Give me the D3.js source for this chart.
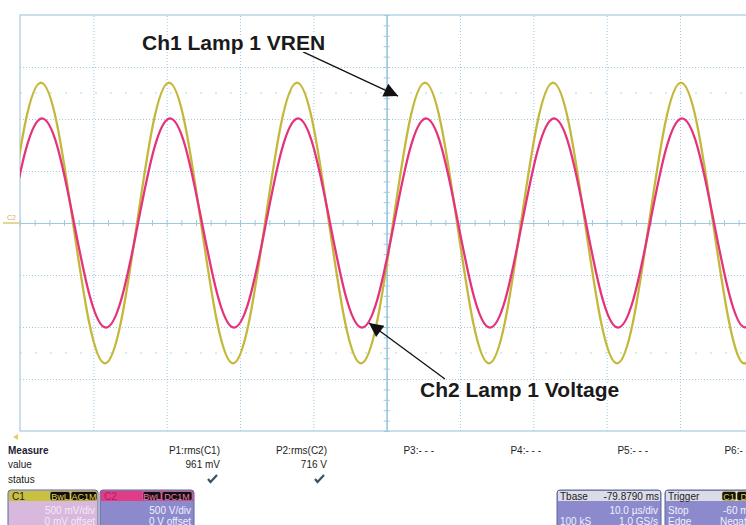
<!DOCTYPE html>
<html>
<head>
<meta charset="utf-8">
<script src="https://cdn.jsdelivr.net/npm/d3@7"></script>
<style>
  body { margin: 0; background: #ffffff; }
  text { font-family: "Liberation Sans", Arial, sans-serif; }
</style>
</head>
<body>
<div id="scope"></div>
<script>
// Scope capture: Ch1 (lamp VREN) and Ch2 (lamp voltage), 10 us/div

// sample times in microseconds (screen centre = 0)
var timeUs = [-51.50, -49.32, -47.14, -44.95, -42.77, -40.59, -38.41, -36.23,
  -34.04, -31.86, -29.68, -27.50, -25.32, -23.13, -20.95, -18.77,
  -16.59, -14.41, -12.22, -10.04, -7.86, -5.68, -3.50, -1.31,
  0.87, 3.05, 5.23, 7.41, 9.60, 11.78, 13.96, 16.14,
  18.32, 20.51, 22.69, 24.87, 27.05, 29.23, 31.42, 33.60,
  35.78, 37.96, 40.14, 42.33, 44.51, 46.69, 48.87, 51.05];

// Ch1 in volts (500 mV/div)
var ch1Volts = [0, 0.95, 1.35, 0.95, 0, -0.95, -1.35, -0.95,
  0, 0.95, 1.35, 0.95, 0, -0.95, -1.35, -0.95,
  0, 0.95, 1.35, 0.95, 0, -0.95, -1.35, -0.95,
  0, 0.95, 1.35, 0.95, 0, -0.95, -1.35, -0.95,
  0, 0.95, 1.35, 0.95, 0, -0.95, -1.35, -0.95,
  0, 0.95, 1.35, 0.95, 0, -0.95, -1.35, -0.95];

// Ch2 in volts (500 V/div), lags Ch1 very slightly
var ch2Volts = [-50, 675, 1004, 745, 50, -675, -1004, -745,
  -50, 675, 1004, 745, 50, -675, -1004, -745,
  -50, 675, 1004, 745, 50, -675, -1004, -745,
  -50, 675, 1004, 745, 50, -675, -1004, -745,
  -50, 675, 1004, 745, 50, -675, -1004, -745,
  -50, 675, 1004, 745, 50, -675, -1004, -745];

// measurement table
var measureNames = ["P1:rms(C1)", "P2:rms(C2)", "P3:- - -", "P4:- - -", "P5:- - -", "P6:- - -"];
var measureValues = ["961 mV", "716 V", "", "", "", ""];
var measureOk = [true, true, false, false, false, false];

// annotation targets: [time us, volts]
var ch1Label = "Ch1 Lamp 1 VREN";
var ch1ArrowFrom = [-11.4, 1.645];
var ch1ArrowTo = [1.55, 1.22];
var ch2Label = "Ch2 Lamp 1 Voltage";
var ch2ArrowFrom = [7.95, -1500];
var ch2ArrowTo = [-2.41, -962];

var svgWidth = 746;
var svgHeight = 525;

// plot region (10 x 8 divisions, right edge runs off the picture)
var plot = { left: 20, top: 15, divX: 73.33, divY: 52 };
var width = plot.divX * 10;
var height = plot.divY * 8;

var gridColor = "#9cc8e0";
var ch1Color = "#c4b83a";
var ch2Color = "#e6327c";

var svg = d3.select("#scope")
  .append("svg")
  .attr("width", svgWidth)
  .attr("height", svgHeight);

svg.append("rect")
  .attr("width", svgWidth)
  .attr("height", svgHeight)
  .attr("fill", "#ffffff");

var chartGroup = svg.append("g")
  .attr("transform", `translate(${plot.left}, ${plot.top})`);

//scales
var xScale = d3.scaleLinear().domain([-50, 50]).range([0, width]);
var y1Scale = d3.scaleLinear().domain([-2, 2]).range([height, 0]);
var y2Scale = d3.scaleLinear().domain([-2000, 2000]).range([height, 0]);

//******************* grid *******************/
var xGrid = chartGroup.append("g")
  .attr("transform", `translate(0, ${height})`)
  .call(d3.axisBottom(xScale).tickValues(d3.range(-40, 50, 10)).tickSize(-height).tickFormat(""));
var yGrid = chartGroup.append("g")
  .call(d3.axisLeft(y1Scale).tickValues(d3.range(-1.5, 2, 0.5)).tickSize(-width).tickFormat(""));

[xGrid, yGrid].forEach(function(g) {
  g.select(".domain").remove();
  g.selectAll("line")
    .attr("stroke", gridColor)
    .attr("stroke-width", 1)
    .attr("stroke-dasharray", "1,2");
});

// faint dotted marker rows
chartGroup.selectAll(".markRow")
  .data([1.25, -1.25])
  .enter()
  .append("line")
  .attr("x1", 0)
  .attr("x2", width)
  .attr("y1", d => y1Scale(d))
  .attr("y2", d => y1Scale(d))
  .attr("stroke", gridColor)
  .attr("stroke-width", 1.2)
  .attr("stroke-dasharray", "2,13")
  .attr("opacity", 0.7);

// centre axes with minor ticks
function styleAxis(g) {
  g.select(".domain").attr("stroke", gridColor).attr("stroke-width", 1.2);
  g.selectAll("line").attr("stroke", gridColor).attr("stroke-width", 1);
}
var minorT = d3.range(-50, 52, 2);
var minorV = d3.range(-2, 2.01, 0.1);
chartGroup.append("g")
  .attr("transform", `translate(0, ${y1Scale(0)})`)
  .call(d3.axisBottom(xScale).tickValues(minorT).tickSizeInner(3).tickSizeOuter(0).tickFormat(""))
  .call(styleAxis);
chartGroup.append("g")
  .attr("transform", `translate(0, ${y1Scale(0)})`)
  .call(d3.axisTop(xScale).tickValues(minorT).tickSizeInner(3).tickSizeOuter(0).tickFormat(""))
  .call(styleAxis);
chartGroup.append("g")
  .attr("transform", `translate(${xScale(0)}, 0)`)
  .call(d3.axisLeft(y1Scale).tickValues(minorV).tickSizeInner(3).tickSizeOuter(0).tickFormat(""))
  .call(styleAxis);
chartGroup.append("g")
  .attr("transform", `translate(${xScale(0)}, 0)`)
  .call(d3.axisRight(y1Scale).tickValues(minorV).tickSizeInner(3).tickSizeOuter(0).tickFormat(""))
  .call(styleAxis);

// outer frame
chartGroup.append("rect")
  .attr("width", width)
  .attr("height", height)
  .attr("fill", "none")
  .attr("stroke", "#a6cce0")
  .attr("stroke-width", 1.2);

// channel ground marker on the left
svg.append("line")
  .attr("x1", 3).attr("x2", plot.left)
  .attr("y1", plot.top + y1Scale(0)).attr("y2", plot.top + y1Scale(0))
  .attr("stroke", "#d8c878").attr("stroke-width", 1.5);
svg.append("text")
  .attr("x", 7).attr("y", plot.top + y1Scale(0) - 3)
  .attr("font-size", "7px")
  .attr("fill", "#d0b070")
  .text("C2");

//******************* traces *******************/
var clip = svg.append("clipPath").attr("id", "plotClip")
  .append("rect").attr("width", width).attr("height", height);

var traceGroup = chartGroup.append("g").attr("clip-path", "url(#plotClip)");

var line1 = d3.line()
  .x((d, i) => xScale(timeUs[i]))
  .y(d => y1Scale(d))
  .curve(d3.curveNatural);
var line2 = d3.line()
  .x((d, i) => xScale(timeUs[i]))
  .y(d => y2Scale(d))
  .curve(d3.curveNatural);

traceGroup.append("path")
  .datum(ch1Volts)
  .attr("d", line1)
  .attr("fill", "none")
  .attr("stroke", ch1Color)
  .attr("stroke-width", 2.3);

traceGroup.append("path")
  .datum(ch2Volts)
  .attr("d", line2)
  .attr("fill", "none")
  .attr("stroke", ch2Color)
  .attr("stroke-width", 2.3);

//******************* annotations *******************/
svg.append("defs").append("marker")
  .attr("id", "arrowHead")
  .attr("viewBox", "0 0 10 10")
  .attr("refX", 10).attr("refY", 5)
  .attr("markerWidth", 19).attr("markerHeight", 14)
  .attr("markerUnits", "userSpaceOnUse")
  .attr("orient", "auto")
  .append("path")
  .attr("d", "M0,0L10,5L0,10Z")
  .attr("fill", "#111");

chartGroup.append("line")
  .attr("x1", xScale(ch1ArrowFrom[0])).attr("y1", y1Scale(ch1ArrowFrom[1]))
  .attr("x2", xScale(ch1ArrowTo[0])).attr("y2", y1Scale(ch1ArrowTo[1]))
  .attr("stroke", "#111").attr("stroke-width", 1.3)
  .attr("marker-end", "url(#arrowHead)");

chartGroup.append("line")
  .attr("x1", xScale(ch2ArrowFrom[0])).attr("y1", y2Scale(ch2ArrowFrom[1]))
  .attr("x2", xScale(ch2ArrowTo[0])).attr("y2", y2Scale(ch2ArrowTo[1]))
  .attr("stroke", "#111").attr("stroke-width", 1.3)
  .attr("marker-end", "url(#arrowHead)");

// label backgrounds are white in the original
[[ch1Label, 142, 50], [ch2Label, 420, 397]].forEach(function(a) {
  svg.append("text")
    .attr("x", a[1]).attr("y", a[2])
    .attr("font-size", "21px")
    .attr("font-weight", "bold")
    .attr("fill", "#1a1a1a")
    .attr("stroke", "#ffffff").attr("stroke-width", 4).attr("paint-order", "stroke")
    .text(a[0]);
});

//******************* measure table *******************/
var meas = svg.append("g").attr("font-size", "10px").attr("fill", "#222");

svg.append("path")
  .attr("d", "M13,437L18,434L18,440Z")
  .attr("fill", "#e0d060");

meas.append("text").attr("x", 8).attr("y", 454).attr("font-weight", "bold").attr("fill", "#223").text("Measure");
meas.append("text").attr("x", 8).attr("y", 468).text("value");
meas.append("text").attr("x", 8).attr("y", 483).text("status");

var colRight = d3.scaleLinear().domain([0, 1]).range([220, 327]);

meas.selectAll(".mname")
  .data(measureNames)
  .enter()
  .append("text")
  .attr("x", (d, i) => colRight(i))
  .attr("y", 454)
  .attr("text-anchor", "end")
  .text(d => d);

meas.selectAll(".mval")
  .data(measureValues)
  .enter()
  .append("text")
  .attr("x", (d, i) => colRight(i))
  .attr("y", 468)
  .attr("text-anchor", "end")
  .text(d => d);

meas.selectAll(".mok")
  .data(measureOk.map((d, i) => [d, i]).filter(d => d[0]))
  .enter()
  .append("path")
  .attr("transform", d => `translate(${colRight(d[1]) - 12}, 479)`)
  .attr("d", "M0,0L2.5,3L9,-4")
  .attr("fill", "none")
  .attr("stroke", "#3c5262")
  .attr("stroke-width", 2.2);

//******************* channel / timebase boxes *******************/
function infoBox(x, w, headColor, bodyColor) {
  var g = svg.append("g").attr("transform", `translate(${x}, 490)`);
  g.append("rect").attr("width", w).attr("height", 40).attr("rx", 3)
    .attr("fill", bodyColor).attr("stroke", "#5a6a9a").attr("stroke-width", 1);
  g.append("rect").attr("x", 1).attr("y", 1).attr("width", w - 2).attr("height", 10)
    .attr("fill", headColor);
  return g;
}

function tag(g, x, w, label, color) {
  g.append("rect").attr("x", x).attr("y", 1.5).attr("width", w).attr("height", 9).attr("rx", 2)
    .attr("fill", "#111").attr("stroke", color).attr("stroke-width", 0.6);
  g.append("text").attr("x", x + w / 2).attr("y", 9.5).attr("text-anchor", "middle")
    .attr("font-size", "9px").attr("fill", color).text(label);
}

var c1 = infoBox(8, 90, "#c8c03e", "#d9b8de");
c1.append("text").attr("x", 4).attr("y", 9.5).attr("font-size", "10px").attr("fill", "#222").text("C1");
tag(c1, 42, 20, "BwL", "#e6d44a");
tag(c1, 63, 26, "AC1M", "#e6d44a");
c1.append("text").attr("x", 87).attr("y", 23.5).attr("text-anchor", "end").attr("font-size", "10px").attr("fill", "#f4e8f4").text("500 mV/div");
c1.append("text").attr("x", 87).attr("y", 34.5).attr("text-anchor", "end").attr("font-size", "10px").attr("fill", "#f4e8f4").text("0 mV offset");

var c2 = infoBox(100, 94, "#e23c86", "#8c8acc");
c2.append("text").attr("x", 4).attr("y", 9.5).attr("font-size", "10px").attr("fill", "#b02060").text("C2");
tag(c2, 43, 18, "BwL", "#f07ab0");
tag(c2, 62, 30, "DC1M", "#f07ab0");
c2.append("text").attr("x", 91).attr("y", 23.5).attr("text-anchor", "end").attr("font-size", "10px").attr("fill", "#f0f0ff").text("500 V/div");
c2.append("text").attr("x", 91).attr("y", 34.5).attr("text-anchor", "end").attr("font-size", "10px").attr("fill", "#f0f0ff").text("0 V offset");

var tb = infoBox(557, 104, "#dcdce8", "#8c8acc");
tb.append("text").attr("x", 3).attr("y", 9.5).attr("font-size", "10px").attr("fill", "#222").text("Tbase");
tb.append("text").attr("x", 102).attr("y", 9.5).attr("text-anchor", "end").attr("font-size", "10px").attr("fill", "#222").text("-79.8790 ms");
tb.append("text").attr("x", 101).attr("y", 23.5).attr("text-anchor", "end").attr("font-size", "10px").attr("fill", "#f0f0ff").text("10.0 µs/div");
tb.append("text").attr("x", 3).attr("y", 34.5).attr("font-size", "10px").attr("fill", "#f0f0ff").text("100 kS");
tb.append("text").attr("x", 101).attr("y", 34.5).attr("text-anchor", "end").attr("font-size", "10px").attr("fill", "#f0f0ff").text("1.0 GS/s");

var tr = infoBox(665, 100, "#dcdce8", "#8c8acc");
tr.append("text").attr("x", 3).attr("y", 9.5).attr("font-size", "10px").attr("fill", "#222").text("Trigger");
tag(tr, 57, 14, "C1", "#e6d44a");
tag(tr, 72, 20, "DC", "#e6d44a");
tr.append("text").attr("x", 3).attr("y", 23.5).attr("font-size", "10px").attr("fill", "#f0f0ff").text("Stop");
tr.append("text").attr("x", 58).attr("y", 23.5).attr("font-size", "10px").attr("fill", "#f0f0ff").text("-60 mV");
tr.append("text").attr("x", 3).attr("y", 34.5).attr("font-size", "10px").attr("fill", "#f0f0ff").text("Edge");
tr.append("text").attr("x", 55).attr("y", 34.5).attr("font-size", "10px").attr("fill", "#f0f0ff").text("Negative");
</script>
</body>
</html>
